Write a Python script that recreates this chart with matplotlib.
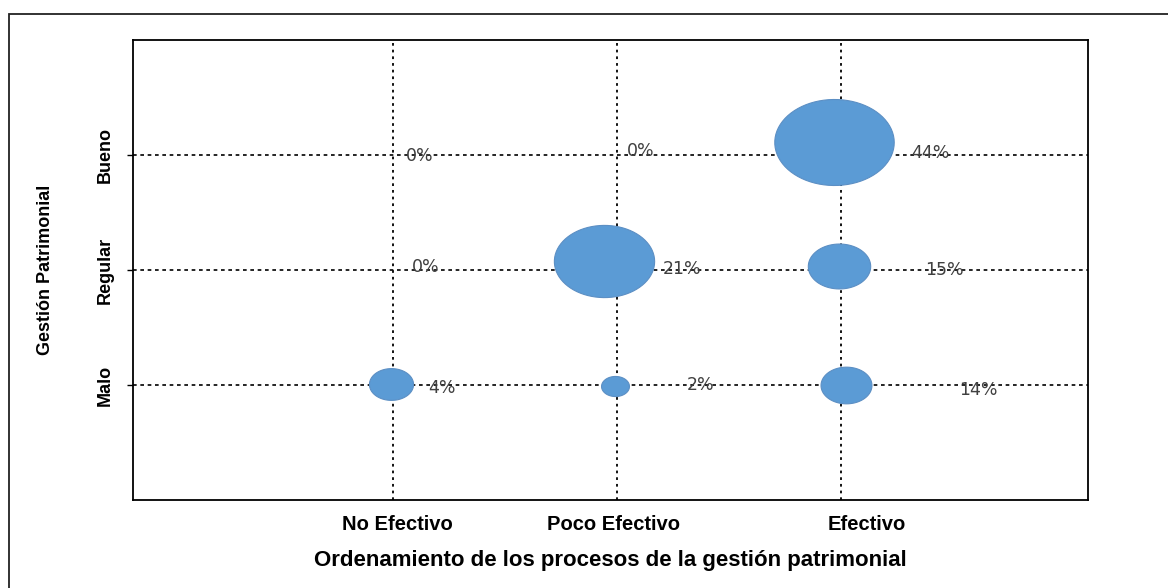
import numpy as np
import matplotlib
matplotlib.use('Agg')
import matplotlib.pyplot as plt
from matplotlib.path import Path
from matplotlib.patches import Rectangle
import matplotlib.transforms as mtransforms

# categories
x_cats = ['No Efectivo', 'Poco Efectivo', 'Efectivo']
y_cats = ['Malo', 'Regular', 'Bueno']

# one entry per cell: x index, y index, percentage label, bubble area
pt_x = [1, 2, 3, 1, 2, 3, 1, 2, 3]
pt_y = [3, 3, 3, 2, 2, 2, 1, 1, 1]
pct = [0, 0, 44, 0, 21, 15, 4, 2, 14]
bubble_area = [0, 0, 44, 0, 31, 12, 6, 2.4, 8]

# layout nudges in pixels (bubble centre, label, x tick label)
bub_nudge = [(0, 0), (0, 0), (-7, 13), (0, 0), (-13, 9), (-2, 4), (-2, 1), (-2, -1), (5, 0)]
lab_nudge = [(13, -1), (10, 4), (70, 2), (19, 3), (46, 1), (84, 0), (35, -3), (70, 0), (118, -5)]
xtick_nudge = [4, -4, 25]

fig = plt.figure(figsize=(11.68, 5.88), dpi=100)
ax = fig.add_axes([133 / 1168, 1 - 500 / 588, (1088 - 133) / 1168, (500 - 40) / 588])

ax.set_xlim(-0.16, 4.10)
ax.set_ylim(0, 4)

# dotted grid on the category positions
for x in range(1, 4):
    ax.axvline(x, color='black', lw=1.3, ls=(0, (1.5, 2.2)), zorder=1)
for y in range(1, 4):
    ax.axhline(y, color='black', lw=1.2, ls=(0, (2.2, 2.2)), zorder=1)

# ellipse marker
t = np.linspace(0, 2 * np.pi, 80)
ell = Path(np.column_stack([np.cos(t), 0.72 * np.sin(t)]), closed=True)

scale = 7400 / 44
for i in range(len(pct)):
    if bubble_area[i] <= 0:
        continue
    dx, dy = bub_nudge[i]
    tr = ax.transData + mtransforms.ScaledTranslation(dx / 100, dy / 100, fig.dpi_scale_trans)
    ax.scatter([pt_x[i]], [pt_y[i]], s=bubble_area[i] * scale, marker=ell,
               color='#5B9BD5', edgecolor='#5C8FC4', linewidth=0.8, zorder=3, transform=tr)

for i in range(len(pct)):
    dx, dy = lab_nudge[i]
    ax.annotate('%d%%' % pct[i], (pt_x[i], pt_y[i]), xytext=(dx, dy),
                textcoords='offset pixels', ha='left', va='center',
                fontsize=12.5, color='#404040', family='DejaVu Sans', zorder=4)

ax.set_xticks(range(1, 4))
ax.set_xticklabels(x_cats, fontsize=14.5, fontweight='bold', family='Liberation Sans')
ax.set_yticks(range(1, 4))
ax.set_yticklabels(y_cats, fontsize=13, fontweight='bold', rotation=90, va='center',
                   family='Liberation Sans')
ax.tick_params(axis='x', length=0, pad=11)
ax.tick_params(axis='y', length=4, width=1, pad=10)

for lbl, dx in zip(ax.get_xticklabels(), xtick_nudge):
    lbl.set_transform(lbl.get_transform() +
                      mtransforms.ScaledTranslation(dx / 100, 0, fig.dpi_scale_trans))

ax.set_xlabel('Ordenamiento de los procesos de la gestión patrimonial', fontsize=16,
              fontweight='bold', family='Liberation Sans', labelpad=11)
ax.set_ylabel('Gestión Patrimonial', fontsize=13, fontweight='bold',
              family='Liberation Sans', labelpad=31)

for s in ax.spines.values():
    s.set_linewidth(1.3)

# outer frame (right and bottom run off the picture)
fig.patches.append(Rectangle((9 / 1168, -0.05), 1.2, 1 - 14 / 588 + 0.05,
                             transform=fig.transFigure, fill=False, edgecolor='#222222',
                             linewidth=1.3))

fig.savefig('out.png', dpi=100)
